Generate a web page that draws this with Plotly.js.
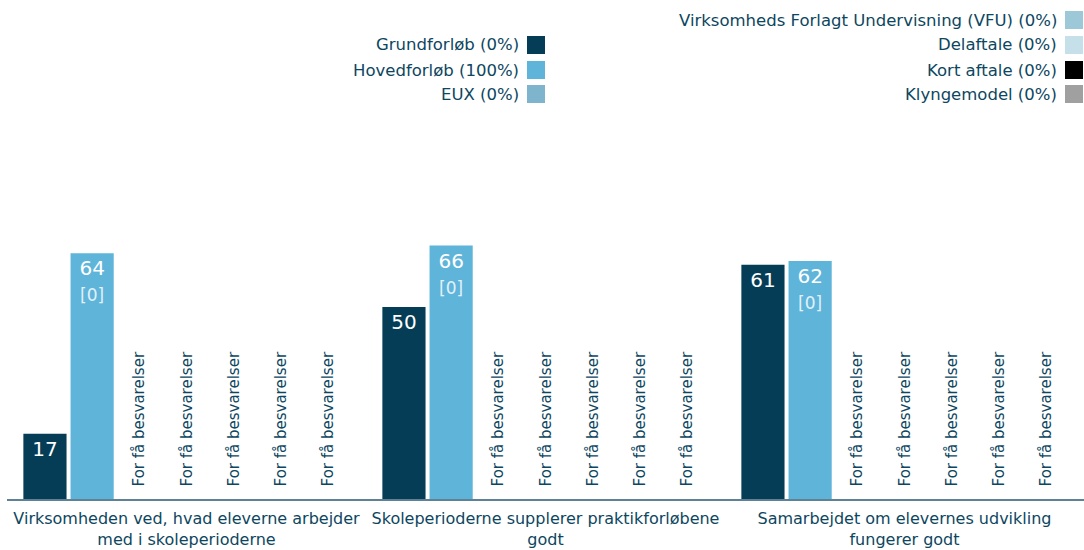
<!DOCTYPE html>
<html><head><meta charset="utf-8">
<script src="https://cdn.plot.ly/plotly-3.0.1.min.js"></script>
<style>html,body{margin:0;padding:0;background:#fff}#chart{width:1084px;height:550px}</style>
</head><body><div id="chart"></div>
<script>
var categories = [
  "Virksomheden ved, hvad eleverne arbejder<br>med i skoleperioderne",
  "Skoleperioderne supplerer praktikforløbene<br>godt",
  "Samarbejdet om elevernes udvikling<br>fungerer godt"
];
var seriesNames = ["Grundforløb","Hovedforløb","EUX","Virksomheds Forlagt Undervisning (VFU)","Delaftale","Kort aftale","Klyngemodel"];
var seriesShares = ["0%","100%","0%","0%","0%","0%","0%"];
var seriesColors = ["#053d56","#5fb4da","#7fb5cc","#9dc8d8","#c6e0ea","#000000","#a0a0a0"];
var grundforlob = [17, 50, 61];
var hovedforlob = [64, 66, 62];
var hovedforlobN = [0, 0, 0];
var emptySeries = [null, null, null];
var tooFewText = "For få besvarelser";
var legendGroup = [1,1,1,2,2,2,2];

var textColor = "#0d4660";
var fontFam = "DejaVu Sans, Verdana, sans-serif";

var traces = [];
seriesNames.forEach(function(name, i){
  var t = {type:"bar", name:name, x:categories, marker:{color:seriesColors[i]}, showlegend:false, hoverinfo:"skip", cliponaxis:false, constraintext:"none"};
  if (i === 0) {
    t.y = grundforlob;
    t.text = grundforlob.map(String);
    t.textposition = "inside"; t.insidetextanchor = "end";
    t.textfont = {color:"#ffffff", size:20, family:fontFam};
    t.textangle = 0;
  } else if (i === 1) {
    t.y = hovedforlob;
    t.text = hovedforlob.map(function(v,k){return v + "<br><span style='font-size:17px;color:#e2f1f8'>[" + hovedforlobN[k] + "]</span>";});
    t.textposition = "inside"; t.insidetextanchor = "end";
    t.textfont = {color:"#ffffff", size:20, family:fontFam};
    t.textangle = 0;
  } else {
    t.y = emptySeries.map(function(v){return v === null ? 0 : v;});
    t.text = emptySeries.map(function(){return "\u00a0\u00a0" + tooFewText;});
    t.textposition = "outside";
    t.textangle = -90;
    t.textfont = {color:textColor, size:15, family:fontFam};
  }
  traces.push(t);
});

// legend built as annotations + shapes (symbol on right side)
var plotL = 7, plotR = 1084, plotT = 115, plotB = 499;
function px2x(p){return (p - plotL)/(plotR - plotL);}
function py2y(p){return (plotB - p)/(plotB - plotT);}
var annotations = [], shapes = [];
var rowY1 = [45,70,94], rowY2 = [20,45,70,94];
var c1 = 0, c2 = 0;
seriesNames.forEach(function(name,i){
  var sqL, yc;
  if (legendGroup[i] === 1) { sqL = 527; yc = rowY1[c1++]; }
  else { sqL = 1065; yc = rowY2[c2++]; }
  shapes.push({type:"rect", xref:"paper", yref:"paper", x0:px2x(sqL), x1:px2x(sqL+18), y0:py2y(yc+9), y1:py2y(yc-9), fillcolor:seriesColors[i], line:{width:0}});
  annotations.push({xref:"paper", yref:"paper", x:px2x(sqL-6), y:py2y(yc), xanchor:"right", yanchor:"middle", showarrow:false, text:name + " (" + seriesShares[i] + ")", font:{family:fontFam, size:16.5, color:textColor}});
});

var layout = {
  width:1084, height:550,
  margin:{l:plotL, r:1084-plotR, t:plotT, b:550-plotB},
  barmode:"group", bargap:0.08, bargroupgap:0.085,
  paper_bgcolor:"#ffffff", plot_bgcolor:"#ffffff",
  font:{family:fontFam, color:textColor, size:16},
  xaxis:{type:"category", showline:true, linecolor:"#5f8195", linewidth:1.5, ticks:"outside", ticklen:4, tickcolor:"rgba(0,0,0,0)", showgrid:false, zeroline:false, automargin:false, tickfont:{size:16, color:textColor}},
  yaxis:{range:[0,100], visible:false, showgrid:false, zeroline:false, fixedrange:true},
  showlegend:false,
  annotations:annotations, shapes:shapes
};
Plotly.newPlot("chart", traces, layout, {displayModeBar:false, staticPlot:true});
</script></body></html>
